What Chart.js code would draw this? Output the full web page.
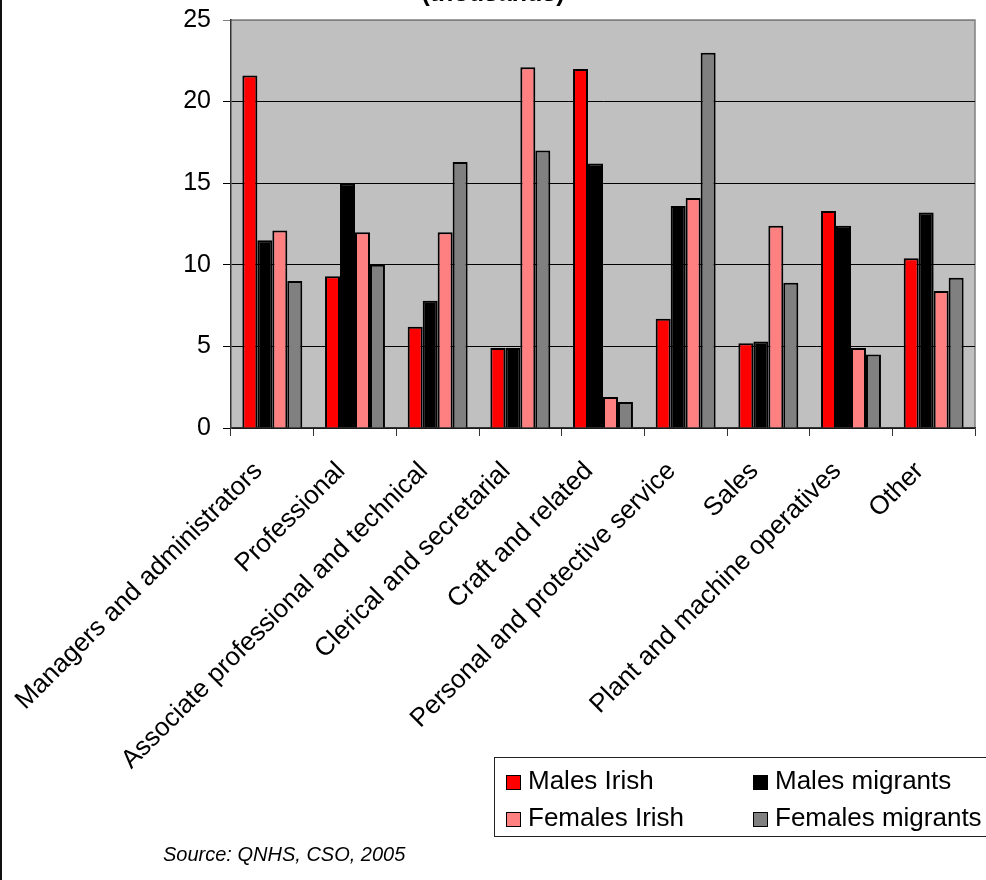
<!DOCTYPE html>
<html>
<head>
<meta charset="utf-8">
<script src="https://cdn.jsdelivr.net/npm/chart.js@4.4.0/dist/chart.umd.min.js"></script>
<style>
  html,body{margin:0;padding:0;background:#fff;overflow:hidden;}
  #wrap{position:relative;width:986px;height:880px;font-family:"Liberation Sans",Arial,sans-serif;}
  #frame{position:absolute;left:0;top:0;width:2px;height:880px;background:#111;}
  #title{position:absolute;left:0;width:986px;top:-22px;text-align:center;font-weight:bold;font-size:25px;}
  #legend{position:absolute;left:494px;top:757px;width:520px;height:78px;border:1px solid #222;}
  .item{position:absolute;font-size:26px;line-height:26px;white-space:nowrap;}
  .sw{display:inline-block;width:13px;height:13px;border:1.5px solid #000;margin-right:7px;vertical-align:-1px;}
  #source{position:absolute;left:163px;top:843px;font-size:20px;font-style:italic;}
</style>
</head>
<body>
<div id="wrap">
  <canvas id="myChart" width="986" height="880"></canvas>
  <div id="frame"></div>
  <div id="title">(thousands)</div>
  <div id="legend"></div>
  <div id="source">Source: QNHS, CSO, 2005</div>
</div>
<script>
// occupations
var categories=["Managers and administrators","Professional","Associate professional and technical","Clerical and secretarial","Craft and related","Personal and protective service","Sales","Plant and machine operatives","Other"];
var seriesNames=["Males Irish","Males migrants","Females Irish","Females migrants"];
var seriesColors=["#FF0000","#000000","#FF8080","#808080"];
// values in thousands
var malesIrish=[21.6,9.3,6.2,4.9,22.0,6.7,5.2,13.3,10.4];
var malesMigrants=[11.5,15.0,7.8,4.9,16.2,13.6,5.3,12.4,13.2];
var femalesIrish=[12.1,12.0,12.0,22.1,1.9,14.1,12.4,4.9,8.4];
var femalesMigrants=[9.0,10.0,16.3,17.0,1.6,23.0,8.9,4.5,9.2];
var yTicks=[0,5,10,15,20,25];

var allValues=[malesIrish,malesMigrants,femalesIrish,femalesMigrants];
var font="'Liberation Sans', Arial, sans-serif";

var datasets=[];
for(let i=0;i<seriesNames.length;i++){
  datasets.push({
    label:seriesNames[i],
    data:allValues[i],
    backgroundColor:seriesColors[i],
    borderColor:"#000",
    borderWidth:2,
    categoryPercentage:0.725,
    barPercentage:1.0
  });
}

// legend, two columns
var leg=document.getElementById("legend");
for(let i=0;i<seriesNames.length;i++){
  let col=i%2, row=Math.floor(i/2);
  let it=document.createElement("div");
  it.className="item";
  it.style.left=(col===0?11:258)+"px";
  it.style.top=(row===0?9:46)+"px";
  it.innerHTML='<span class="sw" style="background:'+seriesColors[i]+'"></span>'+seriesNames[i];
  leg.appendChild(it);
}

var plotBg={
  id:"plotBg",
  beforeDraw:function(chart){
    var a=chart.chartArea, c=chart.ctx;
    c.save();
    c.fillStyle="#C0C0C0";
    c.fillRect(a.left,a.top,a.right-a.left,a.bottom-a.top);
    c.strokeStyle="#808080";
    c.lineWidth=1.5;
    c.beginPath();
    c.moveTo(a.left,a.top);c.lineTo(a.right,a.top);c.lineTo(a.right,a.bottom);
    c.stroke();
    c.restore();
  }
};

var ctx=document.getElementById("myChart");
var myChart=new Chart(ctx,{
  type:"bar",
  data:{labels:categories,datasets:datasets},
  plugins:[plotBg],
  options:{
    responsive:false,
    animation:false,
    layout:{padding:{left:0,right:11,top:20,bottom:0}},
    plugins:{legend:{display:false},title:{display:false},tooltip:{enabled:false}},
    scales:{
      x:{
        grid:{drawOnChartArea:false,drawTicks:true,tickLength:8,color:"#333",offset:true},
        border:{color:"#333",width:1.5},
        ticks:{color:"#000",font:{family:font,size:26},maxRotation:45,minRotation:45,autoSkip:false,padding:20,labelOffset:-14},
        afterFit:function(s){s.height=452;}
      },
      y:{
        min:0,max:25,
        afterBuildTicks:function(s){s.ticks=yTicks.map(v=>({value:v}));},
        grid:{color:function(c){return c.tick&&c.tick.value===25?"#808080":"#000";},lineWidth:1,tickLength:8},
        border:{color:"#333",width:1.5},
        ticks:{color:"#000",font:{family:font,size:25},padding:12},
        afterFit:function(s){s.width=231;s.paddingTop=0;s.paddingBottom=0;}
      }
    }
  }
});
</script>
</body>
</html>
